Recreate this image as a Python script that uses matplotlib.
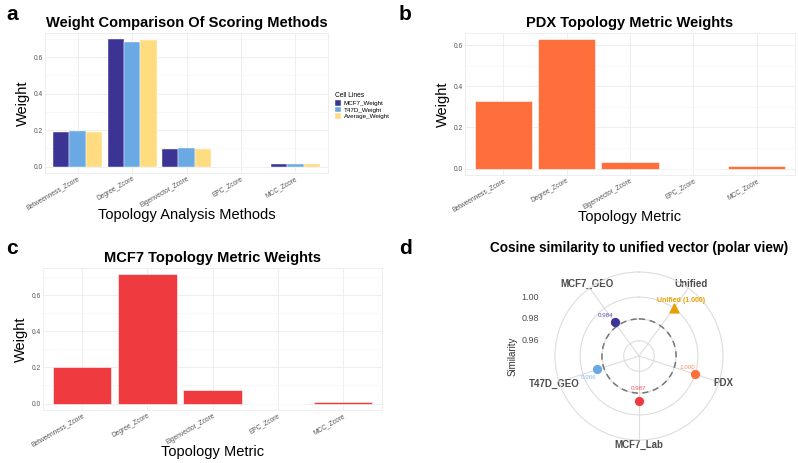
import matplotlib.pyplot as plt
import numpy as np

plt.rcParams['font.family'] = ['Liberation Sans', 'DejaVu Sans']

# data
metrics = ['Betweenness_Zcore', 'Degree_Zcore', 'Eigenvector_Zcore', 'EPC_Zcore', 'MCC_Zcore']
mcf7_weight = [0.187, 0.697, 0.096, 0.0, 0.015]
t47d_weight = [0.195, 0.685, 0.103, 0.0, 0.015]
average_weight = [0.191, 0.691, 0.099, 0.0, 0.015]
pdx_weight = [0.327, 0.629, 0.032, 0.0, 0.013]
mcf7_topo_weight = [0.200, 0.714, 0.074, 0.0, 0.011]

sources = ['Unified', 'PDX', 'MCF7_Lab', 'T47D_GEO', 'MCF7_GEO']
similarity = [1.000, 1.000, 0.987, 0.986, 0.984]
sim_labels = ['Unified (1.000)', '1.000', '0.987', '0.986', '0.984']
threshold = 0.98

W, H = 798, 463
fig = plt.figure(figsize=(W / 100, H / 100), dpi=100)


def box(left, top, right, bottom):
    return [left / W, 1 - bottom / H, (right - left) / W, (bottom - top) / H]


def style_bar(ax, title, xlabel, ymax):
    ax.set_xlim(-0.6, 4.6)
    ax.set_ylim(-0.05 * ymax, 1.05 * ymax)
    ax.set_yticks([0, 0.2, 0.4, 0.6])
    ax.set_yticklabels(['0.0', '0.2', '0.4', '0.6'])
    ax.set_yticks([t for t in [0.1, 0.3, 0.5, 0.7] if t < 1.05 * ymax], minor=True)
    ax.set_xticks(range(len(metrics)))
    ax.set_xticklabels(metrics, rotation=30, ha='right', rotation_mode='anchor')
    ax.grid(which='major', color='#EBEBEB', lw=0.6)
    ax.grid(which='minor', axis='y', color='#F4F4F4', lw=0.4)
    ax.set_axisbelow(True)
    for s in ax.spines.values():
        s.set_color('#EBEBEB')
        s.set_linewidth(0.6)
    ax.tick_params(which='both', length=0, labelsize=4.8, colors='#555555', pad=1.5)
    ax.set_title(title, fontsize=10.5, fontweight='bold', pad=4)
    ax.set_xlabel(xlabel, fontsize=10.5, labelpad=-2)
    ax.set_ylabel('Weight', fontsize=10.5, labelpad=3)


# a: grouped bars
axa = fig.add_axes(box(45, 33, 328, 173))
x = np.arange(len(metrics))
bw = 0.3
axa.bar(x - bw, mcf7_weight, bw, color='#3B3494', label='MCF7_Weight', edgecolor='white', lw=0.3)
axa.bar(x, t47d_weight, bw, color='#6AA9E3', label='T47D_Weight', edgecolor='white', lw=0.3)
axa.bar(x + bw, average_weight, bw, color='#FFDC80', label='Average_Weight', edgecolor='white', lw=0.3)
style_bar(axa, 'Weight Comparison Of Scoring Methods', 'Topology Analysis Methods', max(mcf7_weight))
leg = axa.legend(title='Cell Lines', loc='center left', bbox_to_anchor=(1.005, 0.48), frameon=False,
                 fontsize=4.5, title_fontsize=4.8, handlelength=1.0, handleheight=1.0,
                 handletextpad=0.4, labelspacing=0.1, alignment='left')

# b: PDX
axb = fig.add_axes(box(465, 33, 795, 175))
axb.bar(x, pdx_weight, 0.9, color='#FF6F3C', edgecolor='white', lw=0.4)
style_bar(axb, 'PDX Topology Metric Weights', 'Topology Metric', max(pdx_weight))

# c: MCF7
axc = fig.add_axes(box(43, 268, 382, 410))
axc.bar(x, mcf7_topo_weight, 0.9, color='#EF3B3F', edgecolor='white', lw=0.4)
style_bar(axc, 'MCF7 Topology Metric Weights', 'Topology Metric', max(mcf7_topo_weight))

# d: polar similarity
axd = fig.add_axes(box(555, 272, 723, 440), projection='polar')
axd.set_theta_zero_location('N')
axd.set_theta_direction(-1)
theta = np.deg2rad(36 + 72 * np.arange(len(sources)))
rmin, rmax = 0.946, 1.023
axd.set_ylim(rmin, rmax)
axd.set_yticks([0.96, 0.98, 1.00])
axd.set_yticklabels([])
axd.set_xticks(theta)
axd.set_xticklabels(sources, fontsize=7, fontweight='bold', color='#4D4D4D')
axd.tick_params(axis='x', pad=-7)
axd.grid(color='#DDDDDD', lw=0.8)
axd.spines['polar'].set_color('#DDDDDD')
axd.spines['polar'].set_linewidth(0.8)
ring = np.linspace(0, 2 * np.pi, 300)
axd.plot(ring, np.full(ring.size, threshold), color='#777777', lw=1.1, ls=(0, (4, 3)))

pt_colors = ['#E69F00', '#FF6F3C', '#EF3B3F', '#6AA9E3', '#3B3494']
lab_colors = ['#E69F00', '#FF8C5F', '#F0565A', '#85B9EA', '#5A52A8']
offsets = [(7, 8), (-8, 7), (0, 12), (-9, -8), (-9, 7)]
for i in range(len(sources)):
    mk = '^' if sources[i] == 'Unified' else 'o'
    axd.scatter(theta[i], similarity[i], s=32 if mk == 'o' else 40, marker=mk,
                color=pt_colors[i], zorder=5, clip_on=False)
    axd.annotate(sim_labels[i], (theta[i], similarity[i]), xytext=offsets[i],
                 textcoords='offset pixels', ha='center', va='center',
                 fontsize=5 if i == 0 else 4.5, color=lab_colors[i],
                 fontweight='bold' if i == 0 else 'normal', zorder=6)

# radial labels to the left, as ggplot draws them
inv = fig.transFigure.inverted()
for r in [0.96, 0.98, 1.00]:
    _, yd = axd.transData.transform((0, r))
    fx, fy = inv.transform((0, yd))
    fig.text(539 / W, fy, f'{r:.2f}', ha='right', va='center', fontsize=6.5, color='#4D4D4D')
_, yc = axd.transData.transform((0, rmin))
fig.text(513 / W, inv.transform((0, yc))[1], 'Similarity', rotation=90, ha='center', va='center',
         fontsize=7, color='#333333')
fig.text(639 / W, 1 - 248 / H, 'Cosine similarity to unified vector (polar view)', ha='center',
         va='center', fontsize=9.8, fontweight='bold')

# panel letters
for lx, ly, letter in [(12, 15, 'a'), (405, 15, 'b'), (12, 248, 'c'), (405, 248, 'd')]:
    fig.text(lx / W, 1 - ly / H, letter, fontsize=15, fontweight='bold', ha='center', va='center')

fig.savefig('out.png', dpi=100)
